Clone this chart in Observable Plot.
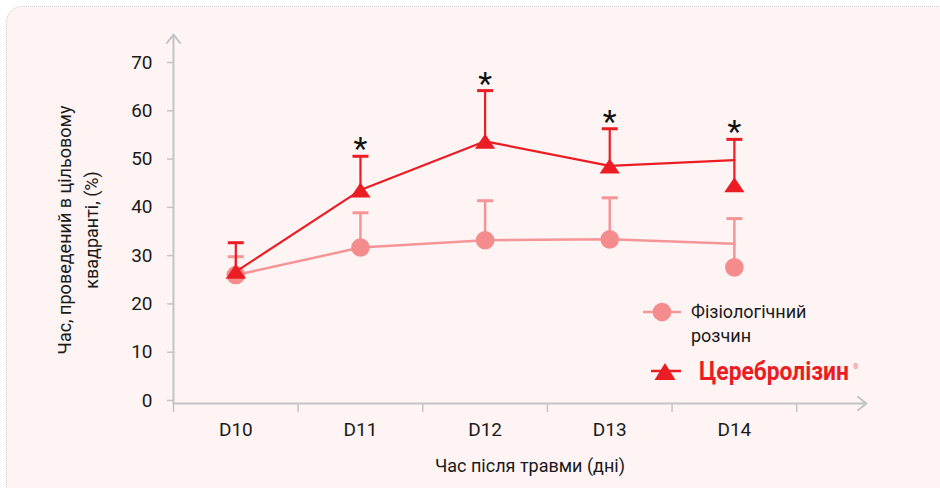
<!DOCTYPE html>
<html><head><meta charset="utf-8">
<script src="https://cdn.jsdelivr.net/npm/d3@7"></script>
<script src="https://cdn.jsdelivr.net/npm/@observablehq/plot@0.6"></script>
<style>
body{margin:0;background:#fff;}
#wrap{position:relative;width:940px;height:488px;overflow:hidden;font-family:Roboto,"Noto Sans",sans-serif;}
#panel{position:absolute;left:6px;top:6px;width:980px;height:520px;background:#fdf4f3;border:1px dotted #cfcfcf;border-radius:16px;box-sizing:border-box;}
#chart{position:absolute;left:0;top:0;}
</style></head><body>
<div id="wrap"><div id="panel"></div><div id="chart"></div></div>
<script>
// ---- data ----
const days = ["D10", "D11", "D12", "D13", "D14"];
const salineLine   = [26.6, 32.3, 33.8, 34.0, 33.1];
const salineMarker = [26.6, 32.3, 33.8, 34.0, 28.2];
const salineErrTop = [30.4, 39.5, 42.0, 42.6, 38.3];
const cereLine     = [27.3, 44.2, 54.3, 49.2, 50.4];
const cereMarker   = [27.4, 44.2, 54.3, 49.2, 45.3];
const cereErrTop   = [33.3, 51.2, 64.8, 56.9, 54.7];
const significant  = [false, true, true, true, true];
const yTicks = [0, 10, 20, 30, 40, 50, 60, 70];
const salineName = ["Фізіологічний", "розчин"];
const cereName = "Церебролізин";
const axisTitleX = "Час після травми (дні)";
const axisTitleY = ["Час, проведений в цільовому", "квадранті, (%)"];

// ---- styles ----
const RED = "#ec1c24", PINK_LINE = "#f59597", PINK_DOT = "#f48b8d", AXIS = "#c4c4c4";
const xDomain = [-0.5, days.length + 0.06];
const yDomain = [0, 70];
const yArrowTop = 76.4;

const saline = days.map((d, i) => ({i, day: d, line: salineLine[i], marker: salineMarker[i], top: salineErrTop[i]}));
const cere = days.map((d, i) => ({i, day: d, line: cereLine[i], marker: cereMarker[i], top: cereErrTop[i], sig: significant[i]}));

const triangle = {draw(ctx, size) { const r = Math.sqrt(size / Math.PI); ctx.moveTo(0, -r); ctx.lineTo(1.35 * r, r); ctx.lineTo(-1.35 * r, r); ctx.closePath(); }};
const capSym = {draw(ctx, size) { const r = Math.sqrt(size / Math.PI); ctx.moveTo(-r, 0); ctx.lineTo(r, 0); }};

const plot = Plot.plot({
  width: 940, height: 488,
  marginLeft: 173, marginRight: 74, marginTop: 65, marginBottom: 85,
  style: {background: "transparent", fontFamily: "Roboto, sans-serif", overflow: "visible"},
  x: {type: "linear", domain: xDomain, axis: null},
  y: {domain: yDomain, axis: null},
  marks: [
    Plot.axisY({ticks: yTicks, tickSize: 6, tickPadding: 15, stroke: AXIS, fill: "#1a1a1a", fontSize: 19, dy: -3, label: null, strokeWidth: 1.5}),
    Plot.axisX({ticks: d3.range(-0.5, days.length, 1), tickSize: 9, tickFormat: () => "", stroke: AXIS, label: null, strokeWidth: 1.5}),
    Plot.axisX({ticks: d3.range(days.length), tickSize: 0, tickPadding: 19, tickFormat: i => days[i], fontSize: 19, fill: "#1a1a1a", label: null}),
    Plot.arrow([0], {x1: () => xDomain[0], x2: () => xDomain[1], y1: () => 0, y2: () => 0, stroke: AXIS, strokeWidth: 2, headLength: 8, headAngle: 76}),
    Plot.arrow([0], {x1: () => xDomain[0], x2: () => xDomain[0], y1: () => 0, y2: () => yArrowTop, stroke: AXIS, strokeWidth: 2, headLength: 8, headAngle: 76}),
    // saline
    Plot.line(saline, {x: "i", y: "line", stroke: PINK_LINE, strokeWidth: 2.5}),
    Plot.ruleX(saline, {x: "i", y1: "marker", y2: "top", stroke: PINK_LINE, strokeWidth: 2.5}),
    Plot.dot(saline, {x: "i", y: "top", symbol: capSym, r: 8, stroke: PINK_LINE, strokeWidth: 3, fill: "none"}),
    Plot.dot(saline, {x: "i", y: "marker", r: 9.3, fill: PINK_DOT, stroke: "none"}),
    // cerebrolysin
    Plot.line(cere, {x: "i", y: "line", stroke: RED, strokeWidth: 2.2}),
    Plot.ruleX(cere, {x: "i", y1: "marker", y2: "top", stroke: RED, strokeWidth: 2.2}),
    Plot.dot(cere, {x: "i", y: "top", symbol: capSym, r: 8, stroke: RED, strokeWidth: 3, fill: "none"}),
    Plot.dot(cere, {x: "i", y: "marker", symbol: triangle, r: 7.5, fill: RED, stroke: "none"}),
    Plot.text(cere.filter(d => d.sig), {x: "i", y: "top", text: () => "*", fontSize: 32, dy: 3, lineAnchor: "bottom", fill: "#111"})
  ]
});
document.getElementById("chart").appendChild(plot);

// ---- titles and legend ----
const svg = d3.select(plot);
const yt = svg.append("text").attr("transform", "translate(70.7,230) rotate(-90)")
  .attr("text-anchor", "middle").attr("font-size", 18).attr("fill", "#1a1a1a").attr("font-family", "Roboto, sans-serif");
axisTitleY.forEach((t, k) => yt.append("tspan").attr("x", 0).attr("dy", k === 0 ? 0 : 27).text(t));
svg.append("text").attr("x", 530).attr("y", 472).attr("text-anchor", "middle")
  .attr("font-size", 18).attr("fill", "#1a1a1a").attr("font-family", "Roboto, sans-serif").text(axisTitleX);

const lg = svg.append("g").attr("text-anchor", "start");
lg.append("line").attr("x1", 643).attr("x2", 681).attr("y1", 312).attr("y2", 312).attr("stroke", PINK_LINE).attr("stroke-width", 2.5);
lg.append("circle").attr("cx", 662).attr("cy", 312).attr("r", 9.3).attr("fill", PINK_DOT);
const st = lg.append("text").attr("x", 691).attr("y", 317.5).attr("text-anchor", "start").attr("font-size", 18).attr("fill", "#1a1a1a").attr("font-family", "Roboto, sans-serif");
salineName.forEach((t, k) => st.append("tspan").attr("x", 691).attr("dy", k === 0 ? 0 : 24.5).text(t));
lg.append("line").attr("x1", 651).attr("x2", 681).attr("y1", 371).attr("y2", 371).attr("stroke", RED).attr("stroke-width", 2.5);
lg.append("path").attr("d", "M665,363L675.5,380L654.5,380Z").attr("fill", RED);
const ct = lg.append("text").attr("text-anchor", "start").attr("font-family", "Roboto, sans-serif")
  .attr("font-size", 25).attr("font-weight", 700).attr("fill", RED).text(cereName);
const natural = ct.node().getComputedTextLength() || 165;
ct.attr("transform", `translate(699,380) scale(${150 / natural},1)`);
lg.append("text").attr("x", 853).attr("y", 369).attr("text-anchor", "start").attr("font-family", "Roboto, sans-serif")
  .attr("font-size", 7).attr("fill", "#f07075").text("®");
</script>
</body></html>
